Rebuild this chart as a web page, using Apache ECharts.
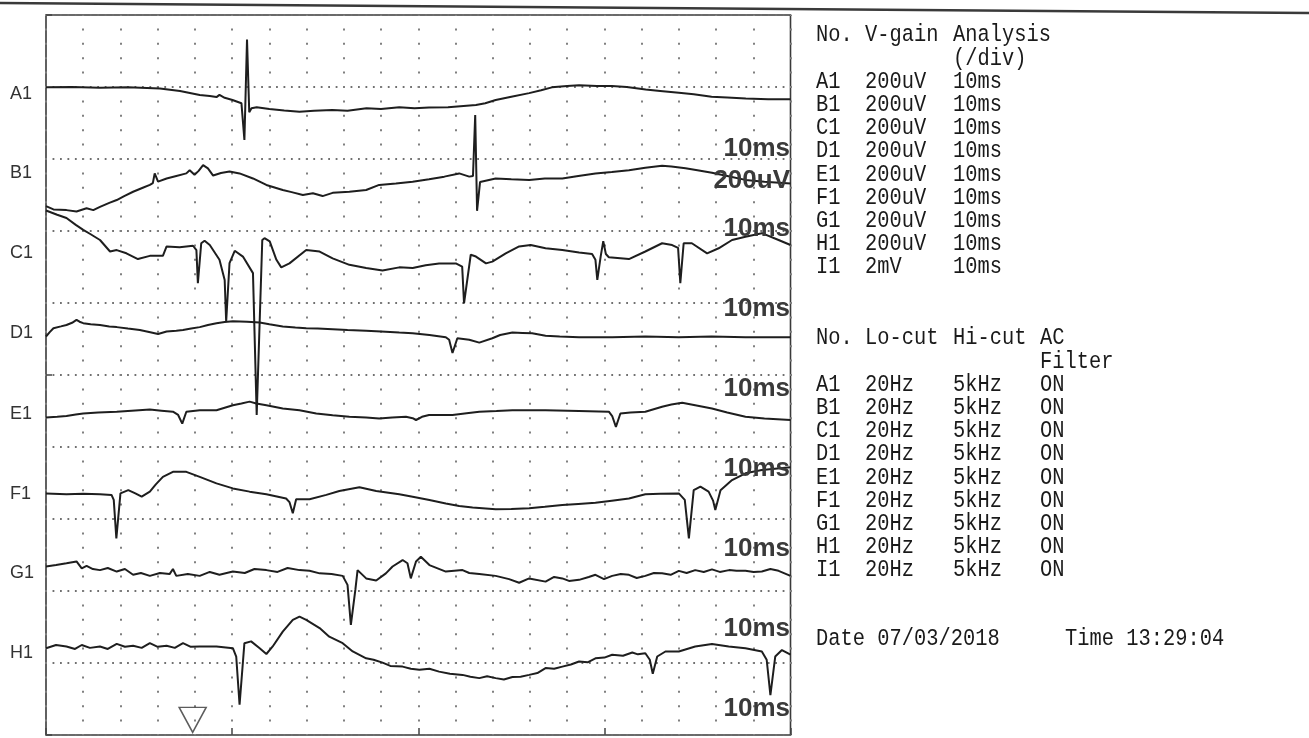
<!DOCTYPE html>
<html><head><meta charset="utf-8">
<script src="https://cdn.jsdelivr.net/npm/echarts@6/dist/echarts.min.js"></script>
<style>html,body{margin:0;padding:0;background:#fff}#c{width:1309px;height:738px}</style>
</head><body><div id="c"></div>
<script>
// ---- data (time in ms, amplitude in uV relative to channel baseline) ----
const channels = ['A1','B1','C1','D1','E1','F1','G1','H1'];
const channelOffsets = [1797,1575,1353,1131,908,686,464,242];

const traceA1 = [[0,2],[7,3],[14.5,1],[22,2],[30.6,-1],[36,-8],[41.3,-19],[44,-22],[45.8,-25],[46.6,-19],[48,-27],[50.1,-33],[52.5,-42],[53.3,-144],[54.0,135],[54.6,-67],[55.2,-56],[56.6,-53],[60,-58],[64,-62],[68.1,-66],[72,-63],[76.9,-61],[81,-63],[86.1,-56],[90,-58],[94.9,-53],[99,-56],[102.9,-54],[108,-53],[115.5,-47],[118,-42],[120.8,-33],[125,-24],[129.8,-14],[133,-6],[135.9,2],[140,6],[143.2,8],[148,6],[152,6],[156,3],[161.1,-4],[165,-8],[170,-13],[174,-17],[178.8,-24],[183,-26],[188,-29],[194,-31],[200,-31]];
const traceB1 = [[0,-106],[2,-115],[5.5,-117],[8.2,-121],[10.9,-112],[12.7,-117],[14.5,-108],[17,-97],[19,-89],[21,-78],[23.4,-66],[26,-55],[27.9,-47],[28.7,-42],[29.2,-15],[30.1,-38],[32.4,-29],[35,-22],[37.7,-15],[38.6,-6],[39.9,-19],[41,-8],[42.2,8],[43.5,-1],[44.9,-21],[47,-14],[49.3,-10],[52,-15],[55.6,-29],[59.2,-47],[63.6,-61],[66,-67],[69,-75],[71.7,-70],[74.3,-78],[77,-69],[81.5,-66],[86,-61],[89.5,-47],[94,-43],[98.5,-38],[102.9,-31],[107,-24],[111,-15],[113.7,-24],[114.7,-22],[115.3,147],[115.8,-119],[116.6,-39],[120.8,-29],[125,-31],[129.8,-33],[134,-29],[138.7,-29],[143,-22],[147.6,-15],[152,-11],[156.6,-6],[161,1],[165.5,6],[168,4],[171.8,-1],[175,-6],[178.9,-13],[183,-22],[187.9,-33],[193,-38],[200,-43]];
const traceC1 = [[0,104],[3,92],[5.5,83],[8,64],[10,50],[12,38],[14.5,22],[17.2,-10],[19,-6],[21.6,-15],[24.7,-31],[27.9,-22],[31.4,-22],[32.4,4],[35.9,2],[39.5,6],[40.4,-6],[40.8,-98],[41.7,13],[42.6,20],[44,8],[46.6,-33],[48,-89],[48.4,-205],[49.3,-42],[50.7,-8],[52.9,-24],[55.6,-70],[56.6,-464],[58.1,22],[58.7,27],[60.1,18],[61.9,-33],[63.2,-54],[65.4,-43],[69.9,-6],[73.5,-10],[77,-29],[81.5,-47],[86,-56],[90.4,-63],[94.9,-54],[98.5,-56],[102,-48],[105.6,-43],[110.1,-43],[111.8,-52],[112.3,-154],[114.1,-19],[115.5,-24],[118.2,-43],[119.9,-38],[123.5,-15],[127.1,4],[130.2,8],[134.2,-1],[138.7,-6],[143.2,-13],[146.7,-17],[147.6,-33],[148.1,-89],[149,-24],[149.7,19],[150.4,-17],[151.2,-26],[156.6,-31],[161,-10],[165.5,13],[168.2,8],[169.8,0],[170.4,-98],[171.3,13],[173.5,13],[177.6,-15],[180.7,-1],[184.3,22],[187.9,31],[192.3,41],[196.8,22],[200,8]];
const traceD1 = [[0,-24],[1,-12],[2,-1],[4,4],[5.5,8],[7,14],[8.2,22],[9,17],[10,13],[12,10],[14.5,8],[17,4],[19,2],[22,-2],[25.2,-6],[28,-12],[30.1,-17],[32.4,-10],[35,-8],[36.8,-6],[39,-2],[41.3,2],[43.5,8],[45.8,13],[48,16],[50.2,18],[54,17],[57.4,15],[60,10],[63.6,4],[67,1],[69.9,-1],[73,-2],[77,-4],[81,-6],[86,-8],[90,-10],[94.9,-13],[98.5,-15],[103,-20],[107.4,-26],[108.3,-33],[109.2,-70],[110.5,-29],[113.7,-33],[116.4,-41],[119.9,-29],[122,-20],[125.3,-13],[128,-14],[130.6,-15],[134.2,-22],[138,-24],[143.2,-26],[152.1,-26],[161,-24],[170,-26],[178.8,-24],[187.9,-26],[200,-26]];
const traceE1 = [[0,-26],[3,-24],[5.5,-22],[8,-18],[10,-15],[14,-12],[19,-10],[23,-7],[27.9,-4],[31,-7],[34.1,-10],[35.5,-19],[36.6,-43],[37.7,-10],[41.3,-6],[45.8,-6],[48,1],[50.2,8],[52.5,13],[54.7,18],[56.5,13],[59.2,8],[63.6,-1],[68.1,-6],[72.6,-15],[77,-20],[81.5,-24],[86,-26],[89.5,-29],[93,-26],[96.7,-24],[98.5,-28],[99.4,-33],[101,-24],[102.9,-19],[109.2,-19],[113,-14],[116.4,-10],[121,-8],[125.3,-6],[134.2,-6],[143.2,-8],[151.2,-10],[152.1,-22],[153.1,-52],[154.3,-15],[157,-12],[161,-10],[165.5,4],[168,10],[170.9,15],[174.4,8],[178.9,-1],[183,-12],[187.9,-24],[193,-29],[200,-33]];
const traceF1 = [[0,-15],[5.5,-17],[10,-16],[14.5,-17],[17.6,-19],[18.2,-33],[18.9,-140],[20,-15],[22.1,-6],[24,-15],[25.7,-24],[27.9,-10],[29.5,10],[31.4,31],[34.1,45],[37.7,45],[41.3,31],[45.8,13],[50.2,-1],[54.7,-10],[59.2,-17],[64.5,-29],[65.4,-39],[66.3,-70],[67.2,-31],[70.8,-31],[75.3,-19],[78.8,-8],[84.2,2],[88.7,-8],[94.9,-17],[98.5,-24],[103,-33],[107.4,-43],[111,-50],[114.6,-54],[120.8,-59],[125,-58],[129.8,-56],[134,-52],[138.7,-47],[143,-44],[147.6,-41],[152,-35],[156.6,-29],[161,-17],[165,-16],[170,-15],[171.6,-33],[172.7,-140],[174,-6],[175.8,4],[178,-10],[179.2,-35],[179.8,-61],[181.2,-6],[184.3,22],[187.9,41],[192.3,50],[200,58]];
const traceG1 = [[0,4],[2.7,8],[5.5,13],[8.2,18],[9.6,-1],[10.9,6],[12.6,-3],[14.5,-6],[16.6,0],[19,-10],[21.2,-3],[23.4,-19],[25.5,-14],[27.9,-22],[30.6,-14],[33.2,-17],[34.1,-3],[35,-22],[38.1,-17],[41.3,-22],[44,-11],[46.6,-19],[50.2,-10],[53.4,-14],[56,-3],[59.2,-6],[62.2,-11],[64.9,0],[68.1,-6],[70.8,-8],[73.5,-15],[76.7,-17],[79.7,-22],[81,-47],[81.9,-158],[83.1,-61],[83.7,-6],[86,-29],[88.7,-35],[91.3,-15],[93.1,4],[95.8,22],[97.1,13],[98,-29],[99.4,18],[100.7,31],[103,8],[107.4,-10],[111.9,-6],[113.7,-14],[116.4,-17],[120.8,-22],[124.4,-31],[127.1,-41],[129.8,-29],[134.2,-38],[136.5,-25],[138.7,-29],[140.5,-36],[143.2,-33],[145.8,-25],[147.6,-19],[149.9,-31],[152.1,-22],[154.4,-17],[156.6,-19],[158.7,-28],[161,-22],[163.3,-14],[165.5,-15],[167.8,-19],[170,-8],[172.1,-14],[174.4,-6],[176.7,-11],[178.9,-4],[181,-11],[183.5,-6],[185.5,-8],[187.9,-8],[190.1,-11],[192.3,-10],[194.6,-3],[196.8,-8],[200,-22]];
const traceH1 = [[0,-1],[2.7,8],[5.5,4],[7.8,-3],[9.6,8],[11.8,0],[14.5,4],[16.6,-3],[19,11],[21.2,3],[23.4,6],[25.7,0],[27.9,13],[30,3],[32.4,6],[34.6,0],[36.8,13],[38.9,3],[41.3,4],[45.8,4],[50.2,-1],[51.1,-24],[52,-158],[53.3,13],[55.1,18],[57.4,-1],[59.2,-17],[60.9,4],[63.6,45],[66.3,78],[68.1,87],[69.9,78],[73.5,55],[76.1,31],[79.7,13],[82.4,-10],[86,-29],[88,-33],[90.4,-41],[92.5,-50],[95.8,-52],[98,-58],[100.3,-61],[103,-58],[105.6,-66],[108.5,-72],[111.9,-75],[114,-80],[116.4,-84],[118.5,-79],[120.8,-84],[123,-88],[125.3,-81],[127.5,-80],[129.8,-75],[132,-70],[134.2,-56],[136.5,-58],[138.7,-52],[141,-46],[143.2,-38],[145.5,-40],[147.6,-29],[150,-27],[152.1,-19],[155,-22],[157.5,-13],[159,-18],[161,-15],[162.2,-33],[163,-72],[164.2,-24],[166.4,-10],[170,-10],[174.4,4],[178.9,11],[183.4,4],[187.9,-1],[192.3,-10],[193.6,-33],[194.6,-131],[195.9,-24],[197.7,-6],[200,-19]];
const traces = [traceA1,traceB1,traceC1,traceD1,traceE1,traceF1,traceG1,traceH1];
const markerPoints = [[39.4,42]];

const scaleLabels = ['10ms','200uV','10ms','10ms','10ms','10ms','10ms','10ms','10ms'];

const gainHeader = ['No.','V-gain','Analysis'];
const gainSubHeader = ['','','(/div)'];
const gainRows = [['A1','200uV','10ms'],['B1','200uV','10ms'],['C1','200uV','10ms'],['D1','200uV','10ms'],['E1','200uV','10ms'],['F1','200uV','10ms'],['G1','200uV','10ms'],['H1','200uV','10ms'],['I1','2mV','10ms']];
const filterHeader = ['No.','Lo-cut','Hi-cut','AC'];
const filterSubHeader = ['','','','Filter'];
const filterRows = [['A1','20Hz','5kHz','ON'],['B1','20Hz','5kHz','ON'],['C1','20Hz','5kHz','ON'],['D1','20Hz','5kHz','ON'],['E1','20Hz','5kHz','ON'],['F1','20Hz','5kHz','ON'],['G1','20Hz','5kHz','ON'],['H1','20Hz','5kHz','ON'],['I1','20Hz','5kHz','ON']];
const dateText = 'Date 07/03/2018';
const timeText = 'Time 13:29:04';

// ---- chart ----
const chart = echarts.init(document.getElementById('c'), null, {renderer:'canvas'});
const traceColor = '#1e1e1e';
const series = traces.map((tr, i) => ({
  type:'line', name: channels[i],
  data: tr.map(([t, v]) => [t, v + channelOffsets[i]]),
  symbol:'none', showSymbol:false, smooth:false, silent:true,
  lineStyle:{color:traceColor, width:2}, z:3
}));
series.push({
  type:'scatter', data: markerPoints, symbol:'triangle', symbolRotate:180, symbolSize:[27,25],
  itemStyle:{color:'rgba(255,255,255,0)', borderColor:'#333', borderWidth:1.5}, silent:true, z:4
});

chart.setOption({
  animation:false,
  backgroundColor:'#fff',
  grid:{left:46, right:518.5, top:15, bottom:3, show:true, borderColor:'#3a3a3a', borderWidth:1.6, backgroundColor:'rgba(0,0,0,0)'},
  xAxis:[
    {type:'value', min:0, max:200, interval:10, axisLine:{show:false}, axisTick:{show:false}, axisLabel:{show:false},
     splitLine:{show:true, lineStyle:{color:'#808080', width:2, type:[2,12.4], dashOffset:1}}},
    {type:'value', min:0, max:200, interval:50, position:'bottom', axisLine:{show:false},
     axisTick:{show:true, inside:true, length:7, lineStyle:{color:'#444', width:1.5}}, axisLabel:{show:false}, splitLine:{show:false}}
  ],
  yAxis:[
    {type:'value', min:0, max:2000, interval:200, axisLine:{show:false}, axisTick:{show:false}, axisLabel:{show:false},
     splitLine:{show:true, lineStyle:{color:'#707070', width:1.8, type:[1.8,5.65], dashOffset:0.9}}},
    {type:'value', min:0, max:2000, interval:1000, position:'left', axisLine:{show:false},
     axisTick:{show:true, inside:true, length:6, lineStyle:{color:'#444', width:1.5}}, axisLabel:{show:false}, splitLine:{show:false}}
  ],
  series: series
});

// ---- text annotations ----
const base = channelOffsets.map(v => chart.convertToPixel({xAxisIndex:0, yAxisIndex:0}, [0, v])[1]);
const step = base[1] - base[0];
const g = [];
const monoFont = '24px "Liberation Mono", "DejaVu Sans Mono", monospace';
function txt(x, y, s, font, fill, align, sx, sy) {
  g.push({type:'text', x:x, y:y, scaleX: sx || 1, scaleY: sy || 1, silent:true, z:10,
    style:{text:s, x:0, y:0, font:font, fill:fill, align:align||'left', verticalAlign:'middle',
           textAlign:align||'left', textVerticalAlign:'middle'}});
}
// top rule
g.push({type:'polyline', shape:{points:[[0,3],[1309,13]]}, style:{stroke:'#3a3a3a', lineWidth:2.5, fill:null}, silent:true});
// channel names
channels.forEach((c, i) => txt(10, base[i] + 5.5, c, '18px "Liberation Sans", Arial, sans-serif', '#333'));
// scale labels on the right edge
scaleLabels.forEach((s, i) => {
  let y;
  if (i === 0) y = base[1] - 19;
  else if (i === 1) y = base[1] + 13;
  else y = base[0] + step * (i) - 19;
  txt(790, y, s, 'bold 26px "Liberation Sans", Arial, sans-serif', '#3a3a3a', 'right');
});
// gain table
const colsA = [816, 865, 953];
const rowH = 23.2;
const tableLines = [gainHeader, gainSubHeader].concat(gainRows);
tableLines.forEach((row, r) => row.forEach((s, c) => { if (s) txt(colsA[c], 35 + rowH * r, s, monoFont, '#1a1a1a', 'left', 0.85, 1.02); }));
// filter table
const colsB = [816, 865, 953, 1040];
const fLines = [filterHeader, filterSubHeader].concat(filterRows);
fLines.forEach((row, r) => row.forEach((s, c) => { if (s) txt(colsB[c], 338 + rowH * r, s, monoFont, '#1a1a1a', 'left', 0.85, 1.02); }));
// date/time
txt(816, 639, dateText, monoFont, '#1a1a1a', 'left', 0.85, 1.02);
txt(1065, 639, timeText, monoFont, '#1a1a1a', 'left', 0.85, 1.02);

chart.setOption({graphic:{elements:g}});
</script>
</body></html>
